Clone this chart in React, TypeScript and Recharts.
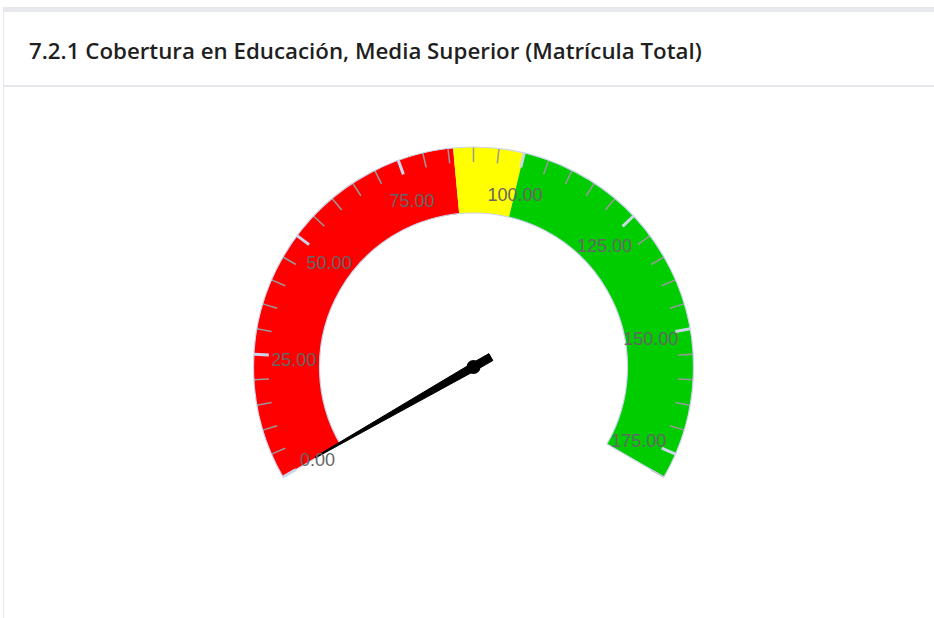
import React from 'react';
import { RadialBarChart, RadialBar, PolarAngleAxis, PolarRadiusAxis } from 'recharts';

const TITLE = '7.2.1 Cobertura en Educación, Media Superior (Matrícula Total)';

// gauge scale
const gaugeMin = 0;
const gaugeMax = 180;

// colour bands (from / to values)
const bandKeys = ['rojo', 'amarillo', 'verde'];
const bandFrom = [0, 86, 100];
const bandTo = [86, 100, 180];
const bandColors = ['#ff0000', '#ffff00', '#00cc00'];

// ticks
const minorTicks = [0, 5, 10, 15, 20, 25, 30, 35, 40, 45, 50, 55, 60, 65, 70, 75, 80, 85, 90, 95, 100, 105, 110, 115, 120, 125, 130, 135, 140, 145, 150, 155, 160, 165, 170, 175, 180];
const majorTicks = [0, 25, 50, 75, 100, 125, 150, 175];

// needle value
const needleValue = [0.2];

const bandRow: Record<string, any> = { name: 'Cobertura' };
bandKeys.forEach((k, i) => {
  bandRow[k] = bandTo[i] - bandFrom[i];
});
const bandData = [bandRow];
const needleData = [{ name: 'Cobertura', aguja: needleValue[0] }];

const W = 934;
const H = 618;
const CX = 473.5;
const CY = 367;
const INNER = 154;
const OUTER = 220;
const TICK_LEN = 15;
const LABEL_R = 180;

const rad = Math.PI / 180;

const TickMark = (props: any) => {
  const { x, y, payload } = props;
  const a = payload.coordinate * rad;
  const ux = Math.cos(a);
  const uy = -Math.sin(a);
  const isMajor = majorTicks.indexOf(payload.value) >= 0;
  return (
    <line
      x1={x}
      y1={y}
      x2={x + TICK_LEN * ux}
      y2={y + TICK_LEN * uy}
      stroke={isMajor ? '#ccd6eb' : '#999999'}
      strokeWidth={isMajor ? 3 : 1.5}
    />
  );
};

const TickLabel = (props: any) => {
  const { x, y, payload } = props;
  const a = payload.coordinate * rad;
  const ux = Math.cos(a);
  const uy = -Math.sin(a);
  const back = OUTER - TICK_LEN - LABEL_R;
  return (
    <text
      x={x - back * ux}
      y={y - back * uy + 3}
      textAnchor="middle"
      dominantBaseline="central"
      fill="#666666"
      fontSize={18}
      fontFamily='"Liberation Sans", Arial, sans-serif'
    >
      {Number(payload.value).toFixed(2)}
    </text>
  );
};

const Needle = (props: any) => {
  const { cx, cy, endAngle } = props;
  const a = endAngle * rad;
  const ux = Math.cos(a);
  const uy = -Math.sin(a);
  const nx = -uy;
  const ny = ux;
  const rear = 20;
  const tip = 182;
  const bw = 4;
  const tw = 0.5;
  const pts = [
    [cx - rear * ux + bw * nx, cy - rear * uy + bw * ny],
    [cx + bw * nx, cy + bw * ny],
    [cx + tip * ux + tw * nx, cy + tip * uy + tw * ny],
    [cx + tip * ux - tw * nx, cy + tip * uy - tw * ny],
    [cx - bw * nx, cy - bw * ny],
    [cx - rear * ux - bw * nx, cy - rear * uy - bw * ny],
  ]
    .map((p) => p[0].toFixed(2) + ',' + p[1].toFixed(2))
    .join(' ');
  return (
    <g>
      <polygon points={pts} fill="#000000" stroke="#000000" strokeWidth={1} />
      <circle cx={cx} cy={cy} r={7} fill="#000000" />
    </g>
  );
};

const chartCommon = {
  width: W,
  height: H,
  cx: CX,
  cy: CY,
  innerRadius: INNER,
  outerRadius: OUTER,
  startAngle: 210,
  endAngle: -30,
  barCategoryGap: 0,
  barGap: 0,
  margin: { top: 0, right: 0, bottom: 0, left: 0 },
};

export default function App() {
  return (
    <div style={{ position: 'absolute', left: 0, top: 0, width: W, height: H, background: '#ffffff', overflow: 'hidden' }}>
      <div
        style={{
          position: 'absolute',
          left: 3,
          top: 7,
          width: W,
          height: H,
          borderTop: '5px solid #e6e8eb',
          borderLeft: '1px solid #e6e8eb',
          boxSizing: 'border-box',
        }}
      >
        <div
          style={{
            position: 'absolute',
            left: 25,
            top: 2,
            height: 72,
            display: 'flex',
            alignItems: 'center',
            fontFamily: '"Open Sans", "Noto Sans", sans-serif',
            fontWeight: 600,
            fontSize: 22.3,
            color: '#1f1f1f',
            whiteSpace: 'nowrap',
          }}
        >
          {TITLE}
        </div>
        <div style={{ position: 'absolute', left: 0, top: 73, width: W, height: 2, background: '#e6e8eb' }} />
      </div>

      <div style={{ position: 'absolute', left: 0, top: 0 }}>
        <RadialBarChart {...chartCommon} data={bandData}>
          <PolarAngleAxis
            type="number"
            domain={[gaugeMin, gaugeMax]}
            ticks={minorTicks}
            tickSize={TICK_LEN}
            orientation="inner"
            tickLine={false}
            axisLine={false}
            tick={TickMark}
          />
          <PolarRadiusAxis type="category" dataKey="name" tick={false} axisLine={false} />
          {bandKeys.map((k, i) => (
            <RadialBar key={k} dataKey={k} stackId="bandas" fill={bandColors[i]} isAnimationActive={false} />
          ))}
        </RadialBarChart>
      </div>

      <div style={{ position: 'absolute', left: 0, top: 0 }}>
        <RadialBarChart {...chartCommon} data={needleData}>
          <PolarRadiusAxis type="category" dataKey="name" tick={false} axisLine={false} />
          <RadialBar
            dataKey="aguja"
            isAnimationActive={false}
            background={{ fill: 'none', stroke: '#ccd6eb', strokeWidth: 1.2 }}
            shape={Needle}
          />
          <PolarAngleAxis
            type="number"
            domain={[gaugeMin, gaugeMax]}
            ticks={majorTicks}
            tickSize={TICK_LEN}
            orientation="inner"
            tickLine={false}
            axisLine={false}
            tick={TickLabel}
          />
        </RadialBarChart>
      </div>
    </div>
  );
}
